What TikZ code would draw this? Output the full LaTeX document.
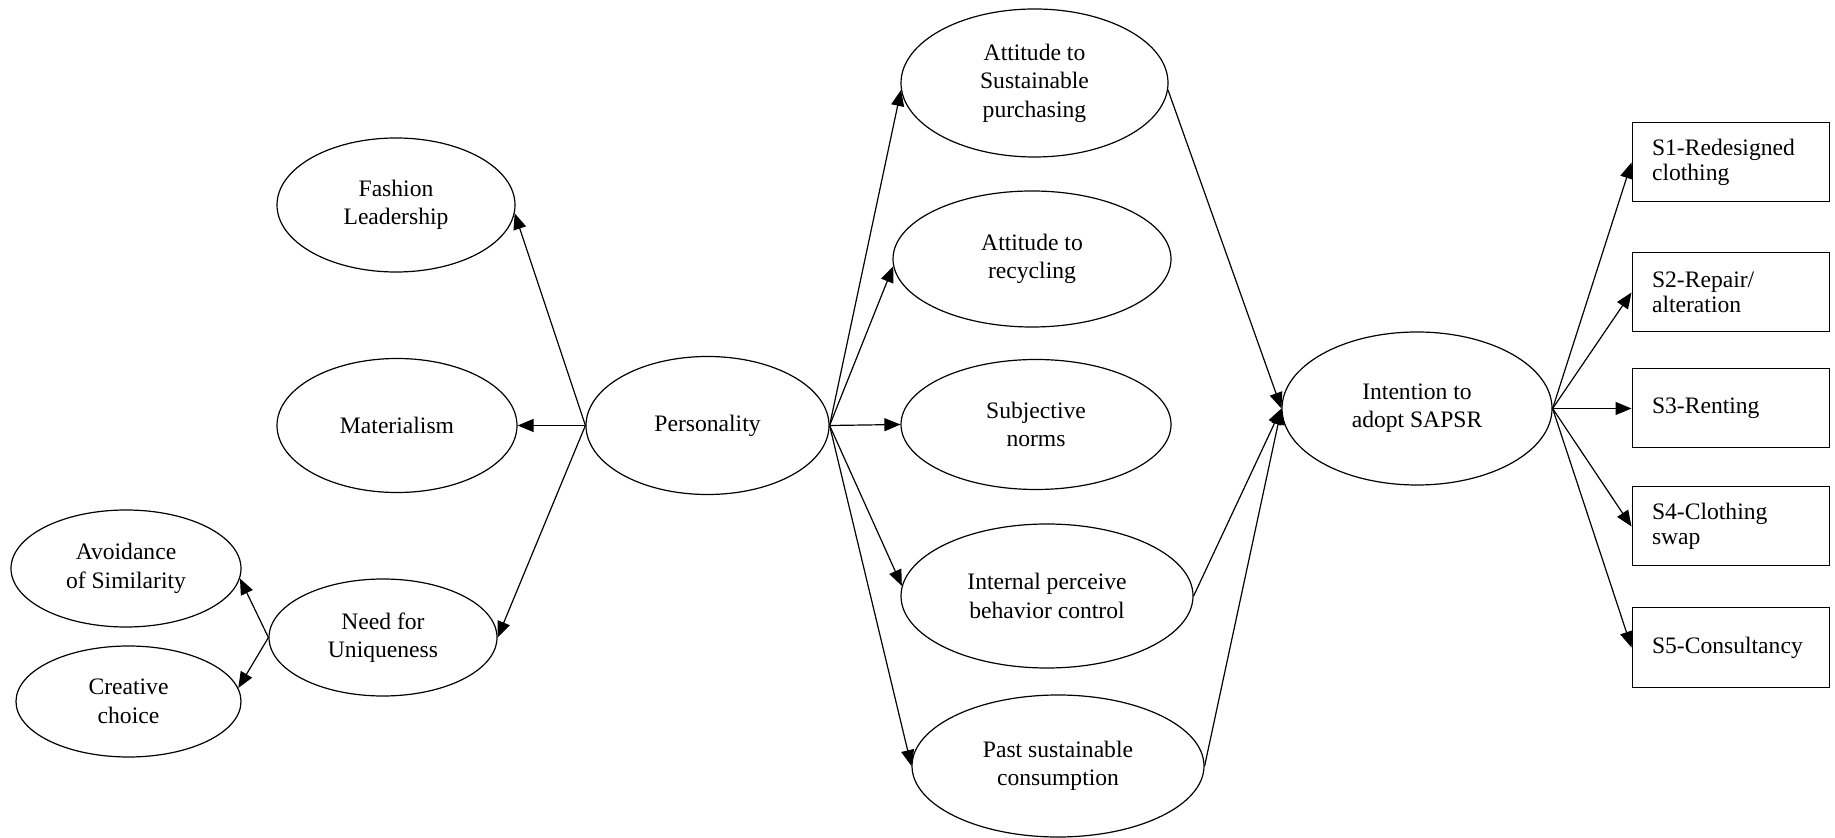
\documentclass[tikz,border=0pt]{standalone}
\usepackage{fontspec}
\setmainfont{Liberation Serif}
\usetikzlibrary{shapes.geometric,arrows.meta}
\begin{document}
\begin{tikzpicture}[x=0.5pt,y=-0.5pt,
  txt/.style={font=\fontsize{11.8}{14.2}\selectfont},
  oval/.style 2 args={ellipse,draw,line width=0.6pt,inner sep=0pt,align=center,txt,
    minimum width=#1pt,minimum height=#2pt},
  sbox/.style={rectangle,draw,line width=0.5pt,inner xsep=10pt,inner ysep=0pt,
    text width=78.5pt,minimum height=39.5pt,align=left,
    font=\fontsize{11.8}{12.3}\selectfont},
  conn/.style={line width=0.6pt,-{Triangle[length=8pt,width=6.5pt]}}]
\useasboundingbox (0,0) rectangle (1835,838);

% constructs
\node[oval={119}{67}]   (fashion) at (396,205)    {Fashion\\Leadership};
\node[oval={120}{67}]   (mat)     at (397,425.5)  {Materialism};
\node[oval={121.5}{69}] (pers)    at (707.5,425.5) {Personality};
\node[oval={114}{58.5}] (nfu)     at (383,637.5)  {Need for\\Uniqueness};
\node[oval={115}{58.5}] (avoid)   at (126,568.5)  {Avoidance\\of Similarity};
\node[oval={112.5}{55.5}] (creat) at (128.5,701.5) {Creative\\choice};
\node[oval={133.5}{74}] (asp)     at (1034.5,83)  {Attitude to\\Sustainable\\purchasing};
\node[oval={139}{68}]   (recyc)   at (1032,259)   {Attitude to\\recycling};
\node[oval={135}{65}]   (subj)    at (1036,424.5) {Subjective\\norms};
\node[oval={146}{72}]   (inter)   at (1047,596)   {Internal perceive\\behavior control};
\node[oval={146}{71}]   (past)    at (1058,766)   {Past sustainable\\consumption};
\node[oval={135}{76.5}] (intent)  at (1417,408.5) {Intention to\\adopt SAPSR};

% services
\node[sbox] (s1) at (1730.5,162.5) {S1-Redesigned\\clothing};
\node[sbox] (s2) at (1730.5,292.5) {S2-Repair/\\alteration};
\node[sbox] (s3) at (1730.5,408.5) {S3-Renting};
\node[sbox] (s4) at (1730.5,526.5) {S4-Clothing\\swap};
\node[sbox] (s5) at (1730.5,647.5) {S5-Consultancy};

% personality facets
\draw[conn] (pers.west) -- (fashion.-4);
\draw[conn] (pers.west) -- (mat.east);
\draw[conn] (pers.west) -- (nfu.east);
\draw[conn] (nfu.west) -- (avoid.-5);
\draw[conn] (nfu.west) -- (creat.7);

% personality to attitudes
\draw[conn] (pers.east) -- (asp.183);
\draw[conn] (pers.east) -- (recyc.183);
\draw[conn] (pers.east) -- (subj.west);
\draw[conn] (pers.east) -- (inter.176);
\draw[conn] (pers.east) -- (past.west);

% attitudes to intention
\draw[conn] (asp.-3) -- (intent.west);
\draw[conn] (inter.east) -- (intent.west);
\draw[conn] (past.east) -- (intent.west);

% intention to services
\foreach \s in {s1,s2,s3,s4,s5}
  \draw[conn] (intent.east) -- (\s.west);
\end{tikzpicture}
\end{document}
